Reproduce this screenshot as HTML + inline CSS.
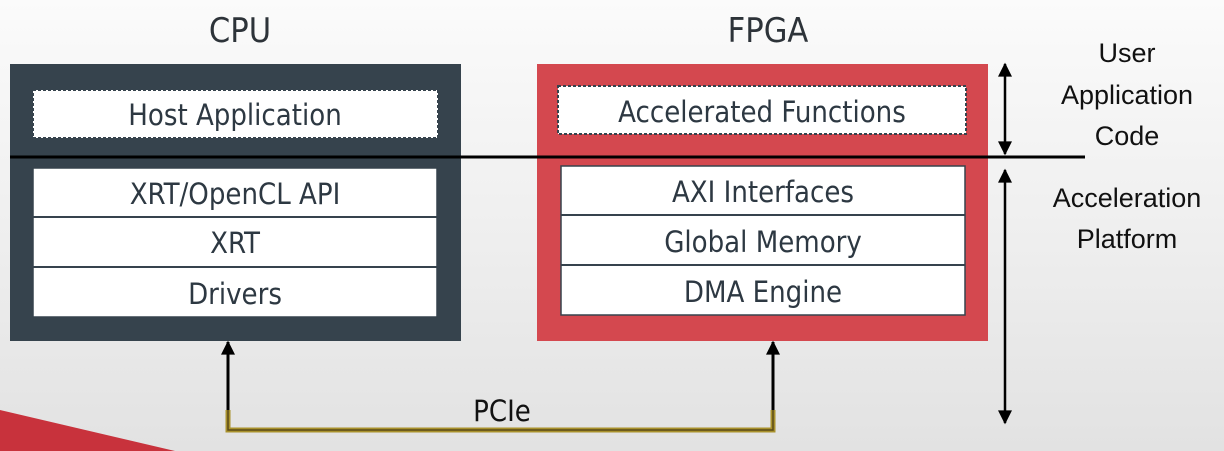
<!DOCTYPE html>
<html><head><meta charset="utf-8"><style>
html,body{margin:0;padding:0;width:1224px;height:451px;overflow:hidden;}
body{background:linear-gradient(180deg,#fbfbfb 0%,#efefef 50%,#e2e2e2 100%);font-family:"DejaVu Sans","Liberation Sans",sans-serif;}
</style></head><body>
<svg width="1224" height="451" viewBox="0 0 1224 451" xmlns="http://www.w3.org/2000/svg">
<defs>
<marker id="ah" viewBox="0 0 10 10" refX="9" refY="5" markerWidth="18" markerHeight="14" orient="auto-start-reverse" markerUnits="userSpaceOnUse"><path d="M0,0 L10,5 L0,10 z" fill="#000"/></marker>
</defs>
<polygon points="0,410 175,451 0,451" fill="#c8323c"/>
<g font-family="DejaVu Sans Condensed, DejaVu Sans, Liberation Sans, sans-serif" text-anchor="middle">
<text x="240" y="42" font-size="34" fill="#2d3339">CPU</text>
<text x="768" y="42" font-size="34" fill="#2d3339">FPGA</text>
</g>
<!-- CPU -->
<rect x="10" y="64" width="451" height="277" fill="#36434d"/>
<rect x="33" y="90" width="405" height="48" fill="#fff" stroke="#36434d" stroke-width="2" stroke-dasharray="3,2"/>
<rect x="33" y="168" width="404" height="149" fill="#fff" stroke="#36434d" stroke-width="1.5"/>
<line x1="33" y1="217" x2="437" y2="217" stroke="#36434d" stroke-width="2"/>
<line x1="33" y1="267" x2="437" y2="267" stroke="#36434d" stroke-width="2"/>
<!-- FPGA -->
<rect x="537" y="64" width="451" height="277" fill="#d4484f"/>
<rect x="558" y="86" width="408" height="48" fill="#fff" stroke="#36434d" stroke-width="2" stroke-dasharray="3,2"/>
<rect x="561" y="166" width="404" height="149" fill="#fff" stroke="#36434d" stroke-width="1.5"/>
<line x1="561" y1="215" x2="965" y2="215" stroke="#36434d" stroke-width="2"/>
<line x1="561" y1="265" x2="965" y2="265" stroke="#36434d" stroke-width="2"/>
<line x1="10" y1="157" x2="1085" y2="157" stroke="#000" stroke-width="3"/>
<g font-family="DejaVu Sans Condensed, DejaVu Sans, Liberation Sans, sans-serif" text-anchor="middle" fill="#2d3842" font-size="29">
<text x="235" y="125">Host Application</text>
<text x="235" y="204">XRT/OpenCL API</text>
<text x="235" y="253">XRT</text>
<text x="235" y="304">Drivers</text>
<text x="762" y="122">Accelerated Functions</text>
<text x="763" y="202">AXI Interfaces</text>
<text x="763" y="252">Global Memory</text>
<text x="763" y="302">DMA Engine</text>
<text x="502" y="421" fill="#111">PCIe</text>
</g>
<!-- right arrows -->
<line x1="1005" y1="64" x2="1005" y2="154" stroke="#000" stroke-width="2.5" marker-start="url(#ah)" marker-end="url(#ah)"/>
<line x1="1005" y1="170" x2="1005" y2="423" stroke="#000" stroke-width="2.5" marker-start="url(#ah)" marker-end="url(#ah)"/>
<g font-family="Liberation Sans, sans-serif" text-anchor="middle" fill="#111" font-size="27">
<text x="1127" y="62">User</text>
<text x="1127" y="104">Application</text>
<text x="1127" y="145">Code</text>
<text x="1127" y="207">Acceleration</text>
<text x="1127" y="248">Platform</text>
</g>
<!-- PCIe -->
<polyline points="228,410 228,430 773,430 773,410" fill="none" stroke="#a8912c" stroke-width="5"/>
<polyline points="228,410 228,430 773,430 773,410" fill="none" stroke="#5a4a18" stroke-width="1.5"/>
<line x1="228" y1="410" x2="228" y2="342" stroke="#000" stroke-width="3" marker-end="url(#ah)"/>
<line x1="773" y1="410" x2="773" y2="342" stroke="#000" stroke-width="3" marker-end="url(#ah)"/>
</svg>
</body></html>
